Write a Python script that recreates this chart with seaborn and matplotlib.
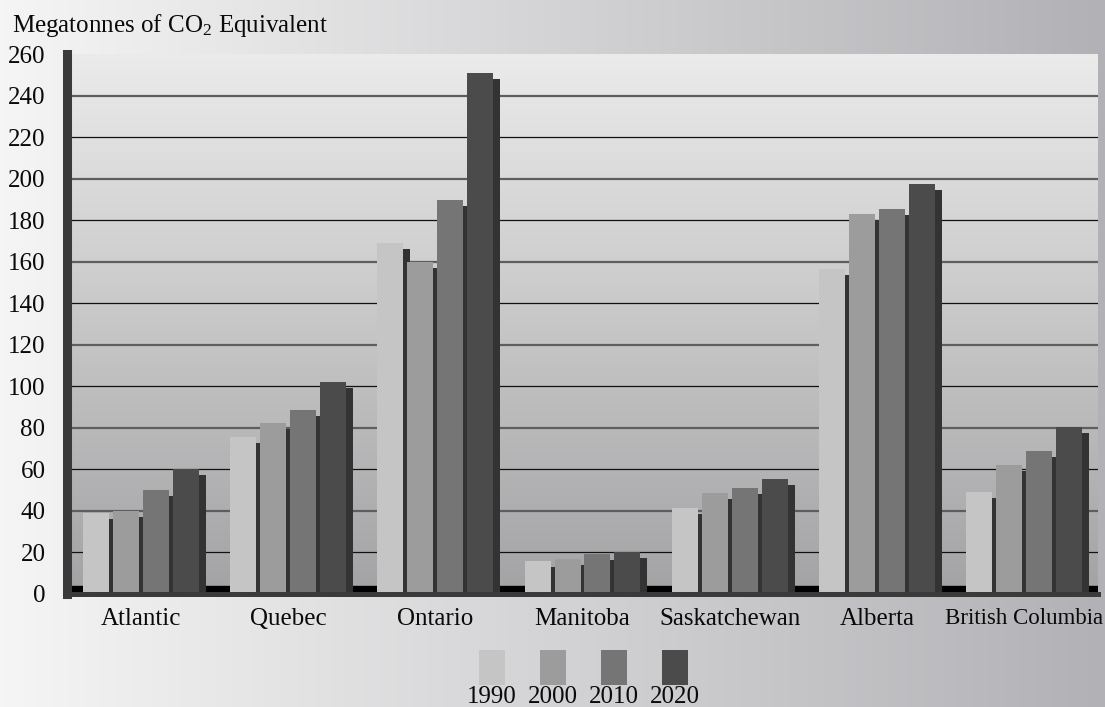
import numpy as np
import pandas as pd
import matplotlib
matplotlib.use("Agg")
import matplotlib.pyplot as plt
import matplotlib.patheffects as pe
from matplotlib.patches import Rectangle
import seaborn as sns

# ---- data ----
regions = ["Atlantic", "Quebec", "Ontario", "Manitoba", "Saskatchewan", "Alberta", "British Columbia"]
years = ["1990", "2000", "2010", "2020"]
e1990 = [39.0, 75.6, 169.0, 15.8, 41.3, 156.5, 49.0]
e2000 = [40.0, 82.3, 160.0, 16.8, 48.6, 183.0, 62.0]
e2010 = [50.0, 88.6, 189.8, 19.2, 51.0, 185.4, 68.8]
e2020 = [60.0, 102.1, 251.0, 20.3, 55.3, 197.5, 80.2]
yticks = list(range(0, 261, 20))
title = "Megatonnes of CO$_\\mathrm{2}$ Equivalent"

colors = ["#c5c5c5", "#9c9c9c", "#757575", "#4b4b4b"]

sns.set_theme(style="white")
plt.rcParams['font.family'] = ['Liberation Serif', 'DejaVu Serif']
plt.rcParams['mathtext.fontset'] = 'custom'
plt.rcParams['mathtext.rm'] = 'Liberation Serif'
plt.rcParams['mathtext.it'] = 'Liberation Serif:italic'

df = pd.DataFrame({
    "region": regions * 4,
    "year": [y for y in years for _ in regions],
    "value": e1990 + e2000 + e2010 + e2020,
})

W, H = 1105, 707
FS = 18
TXT = "#0a0a0a"
fig = plt.figure(figsize=(W / 100, H / 100), dpi=100)

# figure background gradient (left light -> right grey)
bg = fig.add_axes([0, 0, 1, 1], zorder=-5)
g = np.linspace(245, 178, 256)
img = np.stack([g, g, g + np.linspace(0, 4, 256)], axis=-1)[None, :, :] / 255.0
bg.imshow(np.clip(img, 0, 1), aspect='auto', extent=(0, 1, 0, 1))
bg.axis('off')

ax = fig.add_axes([67 / W, (H - 593.8) / H, 1031 / W, 539.5 / H])

sns.barplot(data=df, x="region", y="value", hue="year", order=regions,
            hue_order=years, palette=colors, width=0.8145, gap=0.133,
            saturation=1, errorbar=None, legend=False, ax=ax)

for p in ax.patches:
    p.set_linewidth(0)
    p.set_zorder(3)
    p.set_path_effects([pe.SimplePatchShadow(offset=(5.0, -4.3),
                                             shadow_rgbFace="#333333", alpha=1.0),
                        pe.Normal()])

# plot area vertical gradient
vg = np.linspace(235, 163, 256)
vimg = np.stack([vg, vg, vg + np.linspace(0, 2, 256)], axis=-1)[:, None, :] / 255.0
ax.imshow(np.clip(vimg, 0, 1), aspect='auto', extent=(-0.5, 6.5, 0, 260), zorder=0)
ax.set_xlim(-0.5, 6.5)
ax.set_ylim(0, 260)

# floor strip
ax.axhspan(0, 3.7, color="black", zorder=1)

# alternating gridlines
for v in yticks[1:-1]:
    if (v // 20) % 2 == 1:
        ax.axhline(v, color="#111111", lw=0.9, zorder=1.5)
    else:
        ax.axhline(v, color="#5e5e5e", lw=1.6, zorder=1.5)

for s in ["top", "right"]:
    ax.spines[s].set_visible(False)
ax.spines["left"].set_linewidth(6.5)
ax.spines["left"].set_color("#3a3a3a")
ax.spines["bottom"].set_linewidth(3.6)
ax.spines["bottom"].set_color("#3a3a3a")
for s in ["left", "bottom"]:
    ax.spines[s].set_zorder(5)

ax.set_yticks(yticks)
ax.set_yticklabels([str(v) for v in yticks])
ax.tick_params(axis='y', length=0, pad=15.5, labelsize=FS, labelcolor=TXT)
ax.tick_params(axis='x', length=0, pad=10, labelsize=FS, labelcolor=TXT)
ax.set_xlabel("")
ax.set_ylabel("")
ax.grid(False)
# the last category label is squeezed to fit the right edge, as in the source
ax.get_xticklabels()[-1].set_fontsize(16.5)

fig.text(12 / W, 1 - 32 / H, title, fontsize=FS, ha='left', va='baseline', color=TXT)

# legend: swatches above labels
for i, (yr, c) in enumerate(zip(years, colors)):
    x0 = 479 + 61 * i
    fig.patches.append(Rectangle((x0 / W, (H - 685) / H), 26 / W, 35 / H,
                                 transform=fig.transFigure, color=c, lw=0))
    fig.text((x0 + 13) / W, 1 - 697 / H, yr, ha='center', va='center',
             fontsize=FS, color=TXT)

fig.savefig("out.png", dpi=100)
